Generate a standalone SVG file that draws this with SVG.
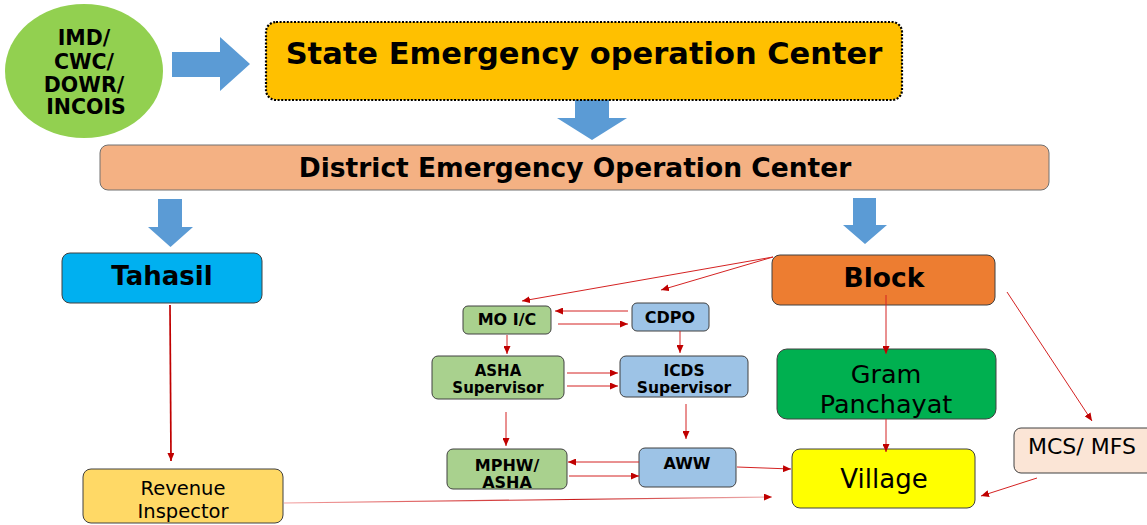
<svg xmlns="http://www.w3.org/2000/svg" width="1147" height="525" viewBox="0 0 1147 525">
<defs>
<style>
.b{font-family:"DejaVu Sans",Verdana,sans-serif;font-weight:bold;fill:#000;text-anchor:middle}
.r{font-family:"DejaVu Sans",Verdana,sans-serif;font-weight:normal;fill:#000;text-anchor:middle}
.box{stroke:#404040;stroke-width:1}
.blk{fill:#5B9BD5}
.ln{fill:none;stroke:#D42222;stroke-width:1}
.thick{fill:none;stroke:#C00000;stroke-width:1.7}
</style>
<marker id="ah" markerWidth="8" markerHeight="7" refX="8" refY="3.5" orient="auto" markerUnits="userSpaceOnUse">
<path d="M0,0 L8,3.5 L0,7 z" fill="#C00000"/>
</marker>
<linearGradient id="riG" x1="0" y1="0" x2="1" y2="0">
<stop offset="0" stop-color="#F2A0A0"/>
<stop offset="0.6" stop-color="#C81A1A"/>
<stop offset="1" stop-color="#F0B8B8"/>
</linearGradient>
</defs>
<rect width="1147" height="525" fill="#FFFFFF"/>

<g id="imd">
<ellipse cx="84" cy="71" rx="79" ry="67" fill="#92D050"/>
<text class="b" font-size="20.5" x="84" y="45">IMD/</text>
<text class="b" font-size="20.5" x="84" y="69">CWC/</text>
<text class="b" font-size="20.5" x="84" y="92">DOWR/</text>
<text class="b" font-size="20.5" x="86" y="114">INCOIS</text>
</g>

<g id="block-arrows">
<path class="blk" d="M172,52 L220,52 L220,37 L250,64 L220,91 L220,77 L172,77 z"/>
<path class="blk" d="M575,100 L609,100 L609,118 L627,118 L592,140 L557,118 L575,118 z"/>
<path class="blk" d="M158,199 L182,199 L182,227 L193,227 L170.5,247 L148,227 L158,227 z"/>
<path class="blk" d="M853,198 L876,198 L876,225 L887,225 L865,244 L843,225 L853,225 z"/>
</g>

<g id="state">
<rect x="266" y="22" width="636" height="78" rx="10" fill="#FFC000" stroke="#000" stroke-width="2.2" stroke-dasharray="2,1.6"/>
<text class="b" font-size="30.5" x="584" y="64">State Emergency operation Center</text>
</g>

<g id="district">
<rect x="100" y="145" width="949" height="45" rx="8" fill="#F4B183" stroke="#707070" stroke-width="1"/>
<text class="b" font-size="26.5" x="575" y="177">District Emergency Operation Center</text>
</g>

<g id="tahasil">
<rect class="box" x="62" y="253" width="200" height="50" rx="8" fill="#00B0F0"/>
<text class="b" font-size="26" x="162" y="285">Tahasil</text>
</g>

<g id="revenue">
<rect class="box" x="83" y="469" width="200" height="54" rx="8" fill="#FFD966"/>
<text class="r" font-size="19.5" x="183" y="495">Revenue</text>
<text class="r" font-size="19.5" x="183" y="518">Inspector</text>
</g>

<g id="block">
<rect class="box" x="772" y="255" width="223" height="50" rx="8" fill="#ED7D31"/>
<text class="b" font-size="26.5" x="884" y="287">Block</text>
</g>

<g id="gram">
<rect class="box" x="777" y="349" width="219" height="70" rx="10" fill="#00B050"/>
<text class="r" font-size="25.5" x="886" y="383">Gram</text>
<text class="r" font-size="25.5" x="886" y="413">Panchayat</text>
</g>

<g id="village">
<rect class="box" x="792" y="449" width="183" height="59" rx="8" fill="#FFFF00"/>
<text class="r" font-size="26" x="884" y="488">Village</text>
</g>

<g id="mcs">
<rect class="box" x="1014" y="428" width="140" height="45" rx="7" fill="#FBE5D6"/>
<text class="r" font-size="22" x="1082" y="454">MCS/ MFS</text>
</g>

<g id="moic">
<rect class="box" x="463" y="306" width="88" height="28" rx="5" fill="#A9D18E"/>
<text class="b" font-size="16" x="507" y="325">MO I/C</text>
</g>

<g id="cdpo">
<rect class="box" x="632" y="303" width="77" height="28" rx="5" fill="#9DC3E6"/>
<text class="b" font-size="16" x="670" y="323">CDPO</text>
</g>

<g id="asha-sup">
<rect class="box" x="432" y="356" width="132" height="43" rx="6" fill="#A9D18E"/>
<text class="b" font-size="15" x="498" y="376">ASHA</text>
<text class="b" font-size="15" x="498" y="393">Supervisor</text>
</g>

<g id="icds-sup">
<rect class="box" x="620" y="356" width="128" height="41" rx="6" fill="#9DC3E6"/>
<text class="b" font-size="15.5" x="684" y="376">ICDS</text>
<text class="b" font-size="15.5" x="684" y="393">Supervisor</text>
</g>

<g id="mphw">
<rect class="box" x="447" y="449" width="120" height="40" rx="6" fill="#A9D18E"/>
<text class="b" font-size="16" x="507" y="471">MPHW/</text>
<text class="b" font-size="16" x="507" y="488">ASHA</text>
</g>

<g id="aww">
<rect class="box" x="639" y="448" width="97" height="39" rx="6" fill="#9DC3E6"/>
<text class="b" font-size="16" x="687" y="469">AWW</text>
</g>

<g id="connectors">
<line class="thick" x1="170" y1="305" x2="171" y2="461" marker-end="url(#ah)"/>
<path d="M284,503 L772,497" fill="none" stroke="url(#riG)" stroke-width="1.2" marker-end="url(#ah)"/>
<line class="ln" x1="773" y1="257" x2="522" y2="301" marker-end="url(#ah)"/>
<line class="ln" x1="773" y1="257" x2="661" y2="290" marker-end="url(#ah)"/>
<line class="ln" x1="628" y1="311" x2="555" y2="311" marker-end="url(#ah)"/>
<line class="ln" x1="558" y1="324" x2="628" y2="324" marker-end="url(#ah)"/>
<line class="ln" x1="507" y1="335" x2="507" y2="354" marker-end="url(#ah)"/>
<line class="ln" x1="680" y1="331" x2="680" y2="353" marker-end="url(#ah)"/>
<line class="ln" x1="567" y1="373" x2="618" y2="373" marker-end="url(#ah)"/>
<line class="ln" x1="567" y1="386" x2="618" y2="386" marker-end="url(#ah)"/>
<line class="ln" x1="506" y1="412" x2="506" y2="446" marker-end="url(#ah)"/>
<line class="ln" x1="686" y1="404" x2="686" y2="439" marker-end="url(#ah)"/>
<line class="ln" x1="639" y1="462" x2="568" y2="462" marker-end="url(#ah)"/>
<line class="ln" x1="569" y1="476" x2="639" y2="476" marker-end="url(#ah)"/>
<line class="ln" x1="737" y1="467" x2="791" y2="469" marker-end="url(#ah)"/>
<line class="ln" x1="886" y1="295" x2="886" y2="354" marker-end="url(#ah)"/>
<line class="ln" x1="886" y1="419" x2="886" y2="452" marker-end="url(#ah)"/>
<line class="ln" x1="1007" y1="292" x2="1092" y2="421" marker-end="url(#ah)"/>
<line class="ln" x1="1037" y1="478" x2="981" y2="496" marker-end="url(#ah)"/>
</g>
</svg>
